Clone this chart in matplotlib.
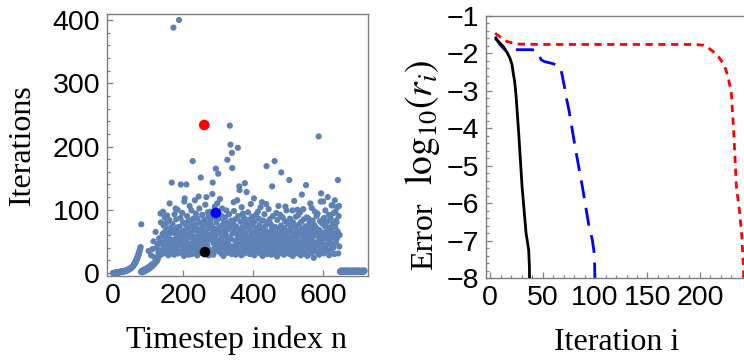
import numpy as np
import matplotlib
matplotlib.use("Agg")
import matplotlib.pyplot as plt
from matplotlib.ticker import MultipleLocator

plt.rcParams['mathtext.fontset'] = 'stix'

# ---------------- Left panel data: iterations per timestep ----------------
iters_start = [0, 0, 0, 0, 0, 0, 0, 0, 1, 1, 1, 1, 1, 1, 1, 1, 1, 1, 1, 1,
               2, 2, 2, 2, 2, 2, 2, 2, 2, 3, 3, 3, 3, 3, 3, 3, 4, 4, 4, 4,
               4, 5, 5, 5, 5, 6, 6, 6, 7, 7, 7, 8, 8, 9, 9, 10, 10, 11, 12, 12,
               13, 14, 15, 16, 17, 18, 19, 20, 22, 23, 25, 26, 28, 29, 31, 33, 35, 37, 39, 41]
iters_transition = [2, 77, 3, 1, 2, 4, 3, 2, 5, 4, 3, 6, 3, 5, 4, 7, 6, 5, 8, 7,
                    6, 9, 35, 8, 7, 10, 9, 9, 12, 28, 11, 10, 14, 38, 13, 12, 50, 15, 14, 25,
                    17, 16, 65, 19, 18, 40, 22, 20, 45, 24, 33, 26, 55, 28, 48, 30, 94, 80, 35, 48]
iters_body = [48, 30, 62, 97, 42, 75, 38, 57, 88, 33,
              66, 40, 79, 35, 52, 91, 44, 70, 28, 60,
              47, 84, 110, 36, 71, 53, 31, 64, 143, 45,
              78, 52, 39, 388, 68, 29, 93, 46, 62, 102,
              36, 85, 55, 72, 42, 100, 31, 65, 49, 400,
              73, 34, 58, 87, 140, 45, 63, 32, 95, 54,
              80, 38, 67, 27, 113, 118, 59, 43, 76, 49,
              140, 33, 90, 61, 81, 41, 70, 29, 56, 106,
              64, 46, 83, 37, 99, 74, 30, 59, 177, 42,
              86, 51, 34, 68, 115, 77, 45, 94, 35, 57,
              71, 28, 86, 53, 64, 121, 40, 102, 60, 32,
              79, 151, 47, 69, 35, 92, 56, 43, 74, 63,
              31, 84, 50, 30, 108, 66, 39, 120, 58, 78,
              44, 96, 53, 89, 28, 71, 61, 37, 82, 97,
              56, 33, 75, 51, 125, 143, 64, 29, 88, 46,
              70, 105, 41, 59, 165, 36, 80, 52, 110, 67,
              43, 157, 86, 34, 72, 48, 117, 39, 62, 91,
              55, 30, 102, 76, 47, 65, 27, 84, 58, 41,
              73, 88, 35, 60, 99, 50, 68, 179, 32, 79,
              57, 45, 93, 38, 233, 71, 203, 54, 83, 30,
              190, 166, 63, 42, 77, 112, 98, 36, 69, 51,
              85, 29, 74, 47, 61, 115, 40, 198, 90, 56,
              34, 137, 131, 67, 44, 81, 53, 28, 104, 72,
              59, 94, 38, 66, 48, 87, 31, 142, 62, 78,
              43, 55, 128, 35, 73, 50, 96, 40, 84, 57,
              68, 30, 79, 47, 109, 37, 64, 53, 89, 33,
              75, 42, 60, 118, 28, 82, 51, 67, 38, 92,
              45, 71, 34, 58, 97, 63, 39, 86, 49, 76,
              31, 55, 104, 44, 70, 36, 112, 61, 27, 83,
              52, 68, 40, 93, 57, 33, 74, 46, 109, 169,
              65, 30, 80, 50, 38, 101, 59, 42, 85, 62,
              35, 77, 54, 29, 69, 137, 48, 90, 37, 66,
              58, 41, 177, 73, 32, 61, 45, 95, 52, 26,
              84, 39, 63, 106, 47, 70, 36, 56, 92, 43,
              75, 159, 31, 60, 49, 88, 38, 66, 53, 29,
              71, 44, 82, 105, 35, 62, 99, 46, 57, 34,
              78, 51, 40, 67, 147, 30, 86, 55, 43, 72,
              37, 64, 48, 99, 27, 80, 58, 41, 114, 61,
              46, 73, 33, 89, 54, 39, 68, 100, 31, 91,
              59, 42, 77, 50, 36, 96, 63, 28, 81, 47,
              124, 70, 38, 57, 101, 45, 85, 34, 65, 52,
              30, 74, 139, 43, 88, 56, 27, 69, 48, 86,
              62, 37, 79, 53, 110, 41, 71, 32, 103, 58,
              45, 83, 50, 66, 24, 76, 39, 97, 60, 35,
              72, 48, 90, 33, 64, 94, 44, 57, 216, 29,
              68, 51, 82, 40, 113, 126, 60, 36, 78, 47,
              63, 113, 31, 87, 55, 42, 74, 99, 38, 66,
              80, 45, 58, 34, 120, 71, 52, 92, 28, 61,
              49, 84, 87, 37, 68, 107, 43, 76, 107, 56,
              40, 95, 62, 30, 115, 73, 97, 48, 83, 80,
              55, 104, 66, 147, 31, 90, 106, 42, 60]
iters_tail = [2, 3, 2, 4, 3, 2, 3, 4, 2, 3, 3, 2, 4, 3, 2, 3, 3, 4, 2, 3,
              2, 3, 4, 3, 2, 3, 4, 3, 2, 3, 3, 2, 3, 4, 3, 2, 3, 3, 4, 2,
              3, 2, 3, 4, 3, 3, 2, 4, 3, 2, 3, 3, 2, 4, 3, 2, 3, 4, 3, 2,
              3, 2, 3, 3, 4, 2, 3, 3, 2, 3, 4]

# Highlighted timesteps (solver runs shown on the right)
hl_n = [261, 294, 263]
hl_iters = [234, 95, 33]
hl_colors = ['#ff0000', '#0000ff', '#000000']

# ---------------- Right panel data: residual history ----------------
black_i = [4.8, 8.5, 12.6, 16, 18.9, 20.8, 22.0, 23.3, 24.5, 27.2, 30.4, 34.2, 36.7, 37.4, 37.5]
black_log = [-1.6, -1.7, -1.82, -1.97, -2.13, -2.3, -2.53, -2.75, -3.07, -4.13, -5.56, -6.8, -7.25, -7.7, -8.0]

blue_i = [4.7, 9, 14.2, 20, 30, 40, 44, 46.5, 48.7, 52, 56.6, 64.5, 67.6, 70.8, 73, 75,
          81.5, 87.9, 94.2, 97.4, 99.5, 99.8]
blue_log = [-1.55, -1.75, -1.91, -1.9, -1.9, -1.9, -1.92, -2.05, -2.17, -2.22, -2.25, -2.31, -2.44,
            -2.89, -3.24, -3.5, -4.58, -5.56, -6.62, -6.98, -7.4, -8.0]

red_i = [4.7, 10, 16, 25.2, 50, 100, 150, 195, 203, 208, 212.5, 218, 222, 224.5, 226.8,
         230, 232.3, 234.8, 238, 240, 241.5, 241.8]
red_log = [-1.46, -1.57, -1.68, -1.75, -1.76, -1.76, -1.76, -1.76, -1.78, -1.85, -1.95, -2.1,
           -2.26, -2.42, -2.62, -3.06, -4.13, -5.56, -6.27, -6.9, -7.7, -8.0]

# ---------------- Figure ----------------
iters = np.array(iters_start + iters_transition + iters_body + iters_tail)
n = np.arange(len(iters))

fig = plt.figure(figsize=(7.44, 3.6), dpi=100)
ax1 = fig.add_axes([107/744, 84/360, 261/744, 262/360])
ax2 = fig.add_axes([486/744, 82/360, 259/744, 262/360])

frame_c = '#7f7f7f'
label_font = dict(family='Liberation Serif', size=23)

for ax in (ax1, ax2):
    for s in ax.spines.values():
        s.set_color(frame_c)
        s.set_linewidth(1.0)
    ax.tick_params(which='both', direction='in', color=frame_c, width=0.9,
                   top=False, right=False, labelsize=20, pad=5)
    ax.tick_params(which='major', length=4)
    ax.tick_params(which='minor', length=2.5)

ax1.scatter(n, iters, s=20, color='#5E81B5', edgecolors='none', zorder=2)
ax1.scatter(hl_n, hl_iters, s=58, color=hl_colors, edgecolors='none', zorder=3)
ax1.set_xlim(-17, 729)
ax1.set_ylim(-4.7, 409.5)
ax1.set_xticks([0, 200, 400, 600])
ax1.set_yticks([0, 100, 200, 300, 400])
ax1.yaxis.set_minor_locator(MultipleLocator(20))

ax2.plot(black_i, black_log, color='black', lw=2.0, solid_capstyle='butt', zorder=3)
ax2.plot(blue_i, blue_log, color='#0000ff', lw=2.0, dashes=(6.5, 3.5), zorder=2)
ax2.plot(red_i, red_log, color='#ff0000', lw=2.0, dashes=(2.6, 2.0), zorder=2)
ax2.set_xlim(-4, 243)
ax2.set_ylim(-8, -1)
ax2.set_xticks([0, 50, 100, 150, 200])
ax2.set_yticks([-8, -7, -6, -5, -4, -3, -2, -1])
ax2.xaxis.set_minor_locator(MultipleLocator(10))
ax2.yaxis.set_minor_locator(MultipleLocator(0.2))
ax2.set_yticklabels(['\u22128', '\u22127', '\u22126', '\u22125', '\u22124', '\u22123', '\u22122', '\u22121'])

for ax in (ax1, ax2):
    for lab in ax.get_xticklabels() + ax.get_yticklabels():
        lab.set_fontfamily('Liberation Sans')
        lab.set_fontsize(20.5)

fig.text(237/744, 0.055, 'Timestep index n', ha='center', va='center', **label_font)
fig.text(22/744, 0.597, 'Iterations', ha='center', va='center', rotation=90, **label_font)
fig.text(617/744, 0.048, 'Iteration i', ha='center', va='center', **label_font)
# y label of right panel: plain word plus a larger math part, sharing one baseline
fig.text(432/744, 1 - 236/360, 'Error', ha='center', va='baseline', rotation=90,
         rotation_mode='anchor', family='Liberation Serif', size=23)
fig.text(432/744, 1 - 122/360, r'$\mathrm{log}_{10}(r_i)$', ha='center', va='baseline',
         rotation=90, rotation_mode='anchor', size=27)

fig.savefig('out.png', dpi=100)
